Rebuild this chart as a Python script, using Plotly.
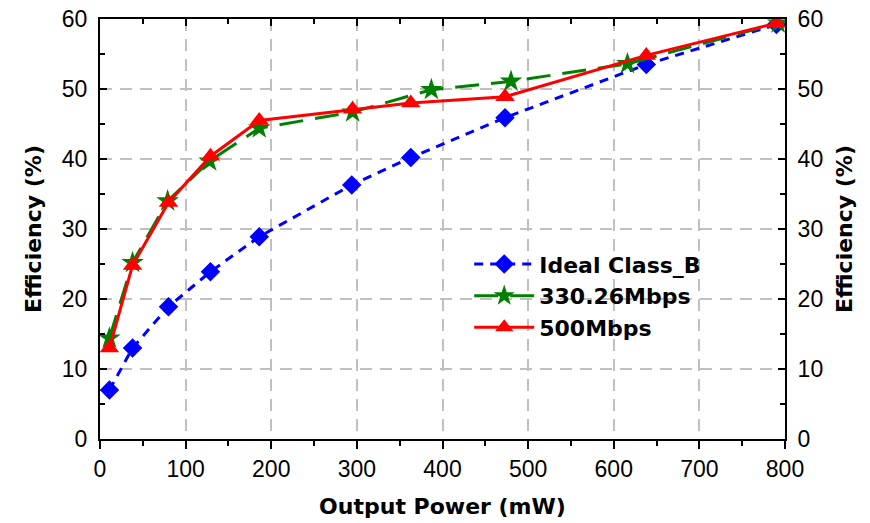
import plotly.graph_objects as go

# Data
ideal_x = [11, 38, 80, 129, 186, 294, 363, 473, 638, 790]
ideal_y = [7.0, 13.0, 18.9, 23.9, 28.9, 36.3, 40.2, 45.9, 53.5, 59.2]

m330_x = [11, 38, 79, 128, 186, 295, 387, 480, 616, 792]
m330_y = [14.4, 25.2, 34.0, 39.7, 44.4, 46.7, 49.9, 51.1, 53.6, 59.4]

m500_x = [11, 38, 80, 129, 186, 295, 363, 473, 638, 790]
m500_y = [13.0, 24.8, 33.8, 40.4, 45.5, 47.1, 48.0, 48.9, 54.8, 59.4]

series_names = ["Ideal Class_B", "330.26Mbps", "500Mbps"]
x_ticks = [0, 100, 200, 300, 400, 500, 600, 700, 800]
y_ticks = [0, 10, 20, 30, 40, 50, 60]
x_range = [0, 800]
y_range = [0, 60]

TICK_FONT = dict(family="Liberation Sans, Arial, sans-serif", size=23, color="black")
TITLE_FONT = dict(family="DejaVu Sans, sans-serif", size=22, color="black", weight="bold")

fig = go.Figure()
fig.add_trace(go.Scatter(
    x=ideal_x, y=ideal_y, name=series_names[0], mode="lines+markers",
    line=dict(color="#0000ff", width=3, dash="9px,7px"),
    marker=dict(symbol="diamond", size=15, color="#0000ff"),
))
fig.add_trace(go.Scatter(
    x=m330_x, y=m330_y, name=series_names[1], mode="lines+markers",
    line=dict(color="#008000", width=3, dash="24px,12px"),
    marker=dict(symbol="star", size=17, color="#008000"),
))
fig.add_trace(go.Scatter(
    x=m500_x, y=m500_y, name=series_names[2], mode="lines+markers",
    line=dict(color="#ff0000", width=3),
    marker=dict(symbol="triangle-up", size=17, color="#ff0000"),
))
# invisible trace so that the top and right axes are drawn
fig.add_trace(go.Scatter(
    x=x_range, y=y_range, xaxis="x2", yaxis="y2", mode="markers",
    marker=dict(opacity=0), showlegend=False, hoverinfo="skip",
))

grid = dict(showgrid=True, gridcolor="#c0c0c0", gridwidth=2, griddash="12px,8px")

fig.update_layout(
    width=870, height=523,
    margin=dict(l=100, r=85, t=19, b=84),
    paper_bgcolor="white", plot_bgcolor="white",
    showlegend=True,
    legend=dict(
        x=0.539, y=0.466, xanchor="left", yanchor="top",
        bgcolor="rgba(0,0,0,0)", borderwidth=0,
        font=dict(family="DejaVu Sans, sans-serif", size=22, color="black", weight="bold"),
        tracegroupgap=0, itemwidth=60,
    ),
    xaxis=dict(
        range=x_range, tickvals=x_ticks, ticks="outside", ticklen=8, tickwidth=2,
        tickcolor="black", showline=True, linecolor="black", linewidth=2,
        tickfont=TICK_FONT, zeroline=False, automargin=False,
        minor=dict(dtick=50, ticks="outside", ticklen=5, tickwidth=2, tickcolor="black", showgrid=False),
        title=dict(text="Output Power (mW)", font=TITLE_FONT, standoff=18),
        **grid,
    ),
    xaxis2=dict(
        range=x_range, overlaying="x", side="top", tickvals=x_ticks, ticks="inside",
        ticklen=7, tickwidth=2, tickcolor="black", showline=True, linecolor="black",
        linewidth=2, showticklabels=False, showgrid=False, zeroline=False, automargin=False,
        minor=dict(dtick=50, ticks="inside", ticklen=5, tickwidth=2, tickcolor="black"),
    ),
    yaxis=dict(
        range=y_range, tickvals=y_ticks, ticks="inside", ticklen=7, tickwidth=2,
        tickcolor="black", showline=True, linecolor="black", linewidth=2,
        tickfont=TICK_FONT, zeroline=False, ticklabelstandoff=6, automargin=False,
        minor=dict(dtick=5, ticks="inside", ticklen=5, tickwidth=2, tickcolor="black", showgrid=False),
        title=dict(text="Efficiency (%)", font=TITLE_FONT, standoff=14),
        **grid,
    ),
    yaxis2=dict(
        range=y_range, overlaying="y", side="right", tickvals=y_ticks, ticks="inside",
        ticklen=7, tickwidth=2, tickcolor="black", showline=True, linecolor="black",
        linewidth=2, tickfont=TICK_FONT, showgrid=False, zeroline=False,
        ticklabelstandoff=6, automargin=False,
        minor=dict(dtick=5, ticks="inside", ticklen=5, tickwidth=2, tickcolor="black"),
        title=dict(text="Efficiency (%)", font=TITLE_FONT, standoff=14),
    ),
)

fig.write_html("out.html")
